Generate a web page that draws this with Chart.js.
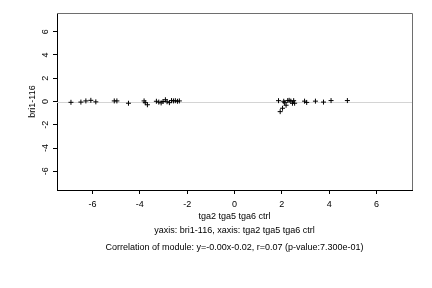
<!DOCTYPE html>
<html>
<head>
<meta charset="utf-8">
<script src="https://cdn.jsdelivr.net/npm/chart.js@4/dist/chart.umd.min.js"></script>
<style>
  html, body { margin: 0; padding: 0; background: #fff; }
  #wrap { width: 432px; height: 288px; }
</style>
</head>
<body>
<div id="wrap"><canvas id="chart" width="432" height="288"></canvas></div>
<script>
// points, two clusters
const xLeft = [-6.91, -6.49, -6.28, -6.07, -5.86, -5.08, -4.97, -4.48, -3.82, -3.77, -3.68,
  -3.30, -3.20, -3.10, -3.02, -2.92, -2.85, -2.75, -2.66, -2.58, -2.50, -2.41, -2.33];
const yLeft = [-0.07, -0.05, 0.05, 0.10, -0.03, 0.05, 0.05, -0.15, 0.05, -0.10, -0.28,
  0.02, -0.05, -0.12, 0.00, 0.15, -0.02, -0.10, 0.08, 0.05, 0.07, 0.02, 0.05];
const xRight = [1.86, 1.93, 2.03, 2.08, 2.12, 2.18, 2.25, 2.31, 2.38, 2.45, 2.50, 2.54,
  2.96, 3.05, 3.42, 3.76, 4.08, 4.77];
const yRight = [0.07, -0.87, -0.58, 0.02, -0.10, -0.32, 0.08, 0.10, 0.03, -0.15, 0.07, -0.15,
  0.03, -0.08, 0.03, -0.05, 0.08, 0.08];

const xTicks = [-6, -4, -2, 0, 2, 4, 6];
const yTicks = [-6, -4, -2, 0, 2, 4, 6];
const xRange = [-7.5, 7.5];
const yRange = [-7.6, 7.6];
const refLine = 0;

const xTitle = 'tga2 tga5 tga6 ctrl';
const yTitle = 'bri1-116';
const subLines = [
  'yaxis: bri1-116, xaxis: tga2 tga5 tga6 ctrl',
  'Correlation of module: y=-0.00x-0.02, r=0.07 (p-value:7.300e-01)',
];

const FONT = '"Liberation Sans", Arial, sans-serif';

const points = xLeft.map((x, i) => ({ x, y: yLeft[i] }))
  .concat(xRight.map((x, i) => ({ x, y: yRight[i] })));

const decorations = {
  id: 'decorations',
  beforeDatasetsDraw(chart) {
    const { ctx, chartArea: { left, right }, scales: { y } } = chart;
    ctx.save();
    // zero reference line
    const y0 = Math.round(y.getPixelForValue(refLine)) + 0.5;
    ctx.strokeStyle = '#d4d4d4';
    ctx.lineWidth = 1;
    ctx.beginPath();
    ctx.moveTo(left, y0);
    ctx.lineTo(right, y0);
    ctx.stroke();
    ctx.restore();
  },
  afterDraw(chart) {
    const { ctx, chartArea: { left, right, top, bottom }, scales: { y } } = chart;
    ctx.save();
    // box: top and right in grey
    ctx.strokeStyle = '#6e6e6e';
    ctx.lineWidth = 1;
    ctx.beginPath();
    ctx.moveTo(Math.round(left), Math.round(top) + 0.5);
    ctx.lineTo(Math.round(right) + 0.5, Math.round(top) + 0.5);
    ctx.lineTo(Math.round(right) + 0.5, Math.round(bottom));
    ctx.stroke();

    ctx.fillStyle = '#000';
    ctx.font = '9px ' + FONT;
    ctx.textAlign = 'center';
    ctx.textBaseline = 'middle';
    // rotated y tick labels, R style
    for (const v of yTicks) {
      const py = y.getPixelForValue(v);
      ctx.save();
      ctx.translate(46, py);
      ctx.rotate(-Math.PI / 2);
      ctx.fillText(String(v), 0, 0);
      ctx.restore();
    }
    // y title
    ctx.save();
    ctx.translate(33, (top + bottom) / 2);
    ctx.rotate(-Math.PI / 2);
    ctx.fillText(yTitle, 0, 0);
    ctx.restore();
    // x title and the two notes below
    const cx = (left + right) / 2;
    ctx.fillText(xTitle, cx, 217);
    ctx.fillText(subLines[0], cx, 231);
    ctx.fillText(subLines[1], cx, 248);
    ctx.restore();
  },
};

new Chart(document.getElementById('chart'), {
  type: 'scatter',
  data: {
    datasets: [{
      data: points,
      pointStyle: 'cross',
      radius: 2.5,
      borderColor: '#000',
      backgroundColor: '#000',
      borderWidth: 1,
    }],
  },
  plugins: [decorations],
  options: {
    responsive: false,
    animation: false,
    events: [],
    layout: { padding: { left: 0, top: 13, right: 20, bottom: 0 } },
    plugins: { legend: { display: false }, tooltip: { enabled: false } },
    scales: {
      x: {
        type: 'linear',
        min: xRange[0],
        max: xRange[1],
        afterBuildTicks(scale) { scale.ticks = xTicks.map(value => ({ value })); },
        afterFit(scale) { scale.height = 98; },
        border: { display: true, color: '#000', width: 1 },
        grid: { drawOnChartArea: false, drawTicks: true, tickLength: 4, color: '#000' },
        ticks: { color: '#000', font: { size: 9, family: FONT }, padding: 5, maxRotation: 0 },
      },
      y: {
        type: 'linear',
        min: yRange[0],
        max: yRange[1],
        afterBuildTicks(scale) { scale.ticks = yTicks.map(value => ({ value })); },
        afterFit(scale) { scale.width = 57; },
        border: { display: true, color: '#000', width: 1 },
        grid: { drawOnChartArea: false, drawTicks: true, tickLength: 4, color: '#000' },
        ticks: { display: false },
      },
    },
  },
});
</script>
</body>
</html>
